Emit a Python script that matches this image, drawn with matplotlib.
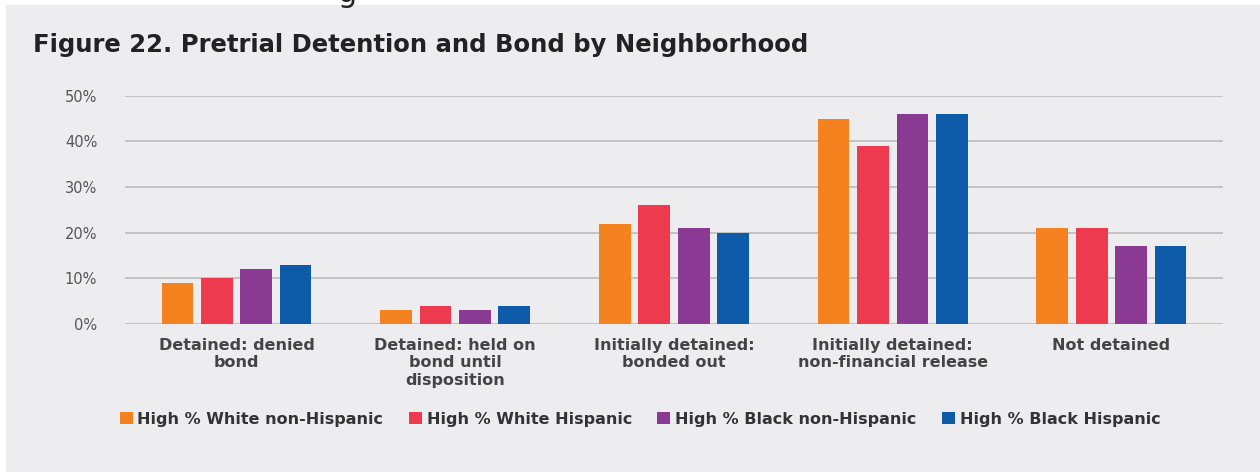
import numpy as np
import matplotlib.pyplot as plt
from matplotlib.patches import Rectangle

categories = ["Detained: denied\nbond",
              "Detained: held on\nbond until\ndisposition",
              "Initially detained:\nbonded out",
              "Initially detained:\nnon-financial release",
              "Not detained"]
series = ["High % White non-Hispanic", "High % White Hispanic",
          "High % Black non-Hispanic", "High % Black Hispanic"]
white_non_hisp = [9, 3, 22, 45, 21]
white_hisp = [10, 4, 26, 39, 21]
black_non_hisp = [12, 3, 21, 46, 17]
black_hisp = [13, 4, 20, 46, 17]
yticks = [0, 10, 20, 30, 40, 50]

colors = ["#F4821F", "#EE3A4E", "#8B3A94", "#0E5BA9"]
values = [white_non_hisp, white_hisp, black_non_hisp, black_hisp]

fig = plt.figure(figsize=(12.6, 4.72), dpi=100)
fig.patch.set_facecolor("white")
# grey panel behind everything
fig.patches.append(Rectangle((0.005, 0), 0.995, 0.99, transform=fig.transFigure,
                             facecolor="#EDEDF0", edgecolor="none", zorder=-10))
# descender of a line of text above the figure, cut by the crop
fig.text(0.268, 0.995, "g", fontsize=22, color="#222222", va="baseline", ha="left")

ax = fig.add_axes([0.0992, 0.3136, 0.8714, 0.4834])
ax.set_facecolor("none")

x = np.arange(len(categories))
offsets = [-0.27, -0.09, 0.09, 0.27]
for vals, off, c, name in zip(values, offsets, colors, series):
    ax.bar(x + off, vals, width=0.145, color=c, label=name, zorder=3)

ax.set_ylim(0, 50)
ax.set_xlim(-0.51, 4.51)
ax.set_yticks(yticks)
ax.set_yticklabels([f"{t}%" for t in yticks], fontsize=10.5, color="#555555")
ax.set_xticks(x)
ax.set_xticklabels(categories, fontsize=11.5, color="#444444", fontweight="bold",
                   linespacing=1.2)
ax.tick_params(axis="both", length=0)
ax.tick_params(axis="x", pad=10)
ax.tick_params(axis="y", pad=20)
ax.grid(axis="y", color="#BBBBBB", linewidth=1.2, zorder=0)
for s in ax.spines.values():
    s.set_visible(False)

fig.text(0.026, 0.905, "Figure 22. Pretrial Detention and Bond by Neighborhood",
         fontsize=17.5, fontweight="bold", color="#222222", va="center")

fig.legend(loc="center", bbox_to_anchor=(0.508, 0.112), ncol=4, frameon=False,
           handlelength=0.8, handleheight=0.8, handletextpad=0.3,
           columnspacing=1.6, prop={"size": 11.5, "weight": "bold"},
           labelcolor="#333333")

fig.savefig("out.png", dpi=100)
